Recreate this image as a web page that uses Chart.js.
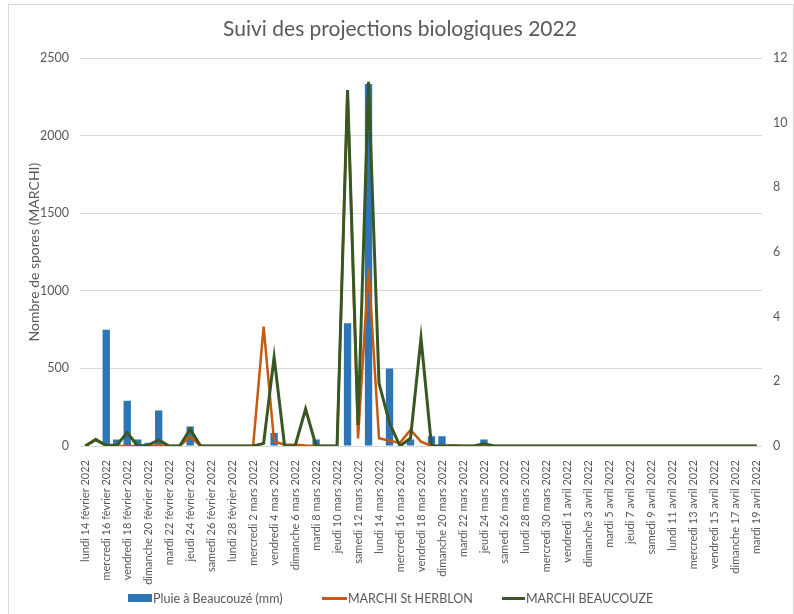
<!DOCTYPE html>
<html>
<head>
<meta charset="utf-8">
<script src="https://cdn.jsdelivr.net/npm/chart.js@4.4.1/dist/chart.umd.min.js"></script>
<style>
html,body{margin:0;padding:0;background:#fff;}
#wrap{position:relative;width:794px;height:614px;overflow:hidden;background:#fff;}
#frame{position:absolute;left:8px;top:4px;width:786px;height:640px;border:1px solid #d9d9d9;box-sizing:border-box;}
#c{position:absolute;left:0;top:0;}
.lg{position:absolute;top:590px;height:16px;display:flex;align-items:center;white-space:nowrap;font:12.5px Lato, sans-serif;color:#595959;}
.sw{display:inline-block;margin-right:1px;}
</style>
</head>
<body>
<div id="wrap">
  <div id="frame"></div>
  <canvas id="c" width="794" height="614"></canvas>
  <div class="lg" style="left:128px"><span class="sw" style="width:24px;height:8px;background:#2E75B6"></span>Pluie à Beaucouzé (mm)</div>
  <div class="lg" style="left:322px"><span class="sw" style="width:25px;height:3px;background:#C55A11"></span>MARCHI St HERBLON</div>
  <div class="lg" style="left:502px"><span class="sw" style="width:23px;height:3px;background:#385723"></span>MARCHI BEAUCOUZE</div>
</div>
<script>
const categories = [
  'lundi 14 février 2022','mardi 15 février 2022','mercredi 16 février 2022','jeudi 17 février 2022','vendredi 18 février 2022','samedi 19 février 2022','dimanche 20 février 2022',
  'lundi 21 février 2022','mardi 22 février 2022','mercredi 23 février 2022','jeudi 24 février 2022','vendredi 25 février 2022','samedi 26 février 2022','dimanche 27 février 2022',
  'lundi 28 février 2022','mardi 1 mars 2022','mercredi 2 mars 2022','jeudi 3 mars 2022','vendredi 4 mars 2022','samedi 5 mars 2022','dimanche 6 mars 2022',
  'lundi 7 mars 2022','mardi 8 mars 2022','mercredi 9 mars 2022','jeudi 10 mars 2022','vendredi 11 mars 2022','samedi 12 mars 2022','dimanche 13 mars 2022',
  'lundi 14 mars 2022','mardi 15 mars 2022','mercredi 16 mars 2022','jeudi 17 mars 2022','vendredi 18 mars 2022','samedi 19 mars 2022','dimanche 20 mars 2022',
  'lundi 21 mars 2022','mardi 22 mars 2022','mercredi 23 mars 2022','jeudi 24 mars 2022','vendredi 25 mars 2022','samedi 26 mars 2022','dimanche 27 mars 2022',
  'lundi 28 mars 2022','mardi 29 mars 2022','mercredi 30 mars 2022','jeudi 31 mars 2022','vendredi 1 avril 2022','samedi 2 avril 2022','dimanche 3 avril 2022',
  'lundi 4 avril 2022','mardi 5 avril 2022','mercredi 6 avril 2022','jeudi 7 avril 2022','vendredi 8 avril 2022','samedi 9 avril 2022','dimanche 10 avril 2022',
  'lundi 11 avril 2022','mardi 12 avril 2022','mercredi 13 avril 2022','jeudi 14 avril 2022','vendredi 15 avril 2022','samedi 16 avril 2022','dimanche 17 avril 2022',
  'lundi 18 avril 2022','mardi 19 avril 2022'
];

// Pluie à Beaucouzé (mm) - right axis
const pluie = [
  0, 0, 3.6, 0.2, 1.4, 0.2, 0.1, 1.1, 0, 0, 0.6, 0, 0, 0, 0,
  0, 0, 0, 0.4, 0, 0, 0, 0.2, 0, 0, 3.8, 0, 11.2, 0, 2.4, 0, 0.2, 0, 0.3, 0.3,
  0, 0, 0, 0.2, 0, 0, 0, 0, 0, 0, 0,
  0, 0, 0, 0, 0, 0, 0, 0, 0, 0, 0, 0, 0, 0, 0, 0, 0, 0, 0
];

// MARCHI St HERBLON - left axis (spores)
const stHerblon = [
  0, 45, 0, 0, 0, 0, 0, 5, 0, 0, 60, 0, 0, 0, 0,
  0, 0, 769, 28, 10, 8, 3, 0, 0, 0, 2294, 49, 1145, 50, 34, 20, 103, 28, 0, 0,
  5, 0, 0, 0, 0, 0, 0, 0, 0, 0, 0,
  0, 0, 0, 0, 0, 0, 0, 0, 0, 0, 0, 0, 0, 0, 0, 0, 0, 0, 0
];

// MARCHI BEAUCOUZE - left axis (spores)
const beaucouze = [
  0, 40, 5, 5, 86, 0, 5, 39, 0, 0, 109, 0, 0, 0, 0,
  0, 0, 17, 573, 0, 0, 238, 0, 0, 0, 2294, 135, 2348, 404, 148, 0, 50, 696, 0, 0,
  0, 0, 0, 15, 0, 0, 0, 0, 0, 0, 0,
  0, 0, 0, 0, 0, 0, 0, 0, 0, 0, 0, 0, 0, 0, 0, 0, 0, 0, 0
];

const FONT = 'Lato, sans-serif';
const GREY = '#595959';

new Chart(document.getElementById('c'), {
  data: {
    labels: categories,
    datasets: [
      { type: 'bar', label: 'Pluie à Beaucouzé (mm)', data: pluie, yAxisID: 'y1',
        backgroundColor: '#2E75B6', barPercentage: 0.7, categoryPercentage: 1.0, order: 3 },
      { type: 'line', label: 'MARCHI St HERBLON', data: stHerblon, yAxisID: 'y',
        borderColor: '#C55A11', borderWidth: 2.5, pointRadius: 0, tension: 0, fill: false, order: 2 },
      { type: 'line', label: 'MARCHI BEAUCOUZE', data: beaucouze, yAxisID: 'y',
        borderColor: '#385723', borderWidth: 3, pointRadius: 0, tension: 0, fill: false, order: 1 }
    ]
  },
  options: {
    responsive: false,
    animation: false,
    devicePixelRatio: 1,
    layout: { padding: { left: 8, right: 2, top: 4, bottom: 0 } },
    plugins: {
      legend: { display: false },
      tooltip: { enabled: false },
      title: { display: true, text: 'Suivi des projections biologiques 2022', color: GREY,
        font: { family: FONT, size: 21, weight: 'normal' }, padding: { top: 13, bottom: 16 } }
    },
    scales: {
      x: {
        grid: { display: false },
        border: { display: false },
        ticks: {
          autoSkip: false, minRotation: 90, maxRotation: 90, padding: 6,
          color: GREY, font: { family: FONT, size: 11 },
          callback: (v, i) => (i % 2 === 0 ? categories[i] : '')
        },
        afterFit: s => { s.height = 168; }
      },
      y: {
        position: 'left', min: 0, max: 2500,
        ticks: { stepSize: 500, padding: 11, color: GREY, font: { family: FONT, size: 12.5 },
          callback: v => String(v) },
        grid: { color: '#d9d9d9', drawTicks: false },
        border: { display: false },
        title: { display: true, text: 'Nombre de spores (MARCHI)', color: GREY,
          font: { family: FONT, size: 14 }, padding: { top: 18, bottom: 0 } },
        afterFit: s => { s.width = 72; }
      },
      y1: {
        position: 'right', min: 0, max: 12,
        ticks: { stepSize: 2, padding: 11, color: GREY, font: { family: FONT, size: 12.5 } },
        grid: { drawOnChartArea: false, drawTicks: false },
        border: { display: false },
        afterFit: s => { s.width = 30; }
      }
    }
  }
});
</script>
</body>
</html>
